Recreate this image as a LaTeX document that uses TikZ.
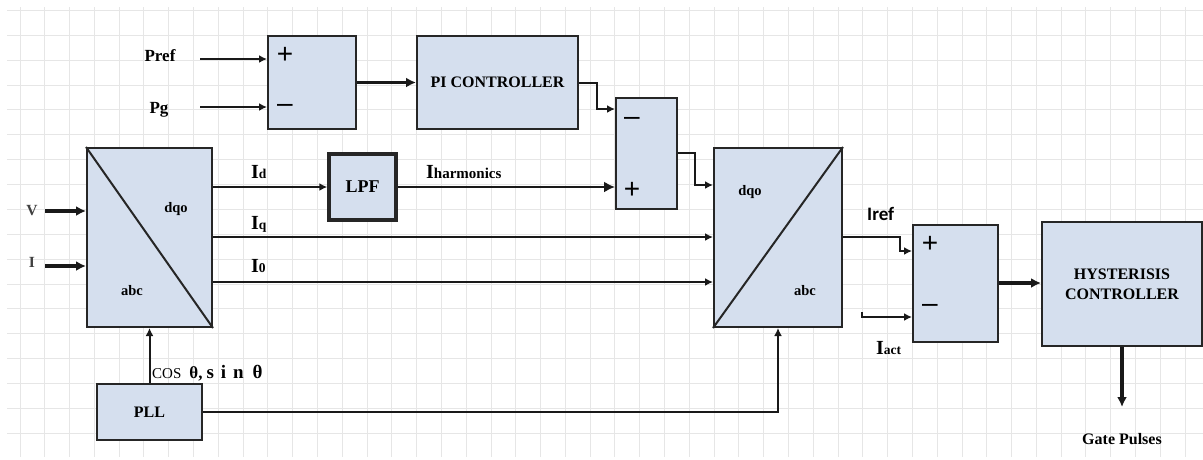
\documentclass[tikz,border=0pt]{standalone}
\usepackage{fontspec}
\setmainfont{Liberation Serif}
\newfontfamily\calfont{Carlito}
\newfontfamily\signfont{Liberation Sans}
\usetikzlibrary{arrows.meta}
\definecolor{blkfill}{RGB}{213,223,238}
\definecolor{gridgray}{RGB}{230,230,230}
\newcommand\curlbl[2]{{\fontsize{20}{20}\selectfont #1}{\fontsize{13.5}{14}\selectfont #2}}

\begin{document}
\begin{tikzpicture}[
  x=1pt, y=-1pt,
  blk/.style={draw=black!85, line width=2pt, fill=blkfill, inner sep=0pt, align=center, font=\fontsize{16}{20}\selectfont\bfseries},
  sig/.style={-{Latex[length=8pt,width=8pt]}, line width=2pt, black!90},
  bigsig/.style={-{Latex[length=10pt,width=10pt]}, line width=3.2pt, black!90},
  wire/.style={line width=2pt, black!90},
  gridline/.style={gridgray, line width=1pt},
  lbl/.style={inner sep=0pt, anchor=base, font=\fontsize{17}{20}\selectfont\bfseries},
  sign/.style={inner sep=0pt, font=\signfont\fontsize{28}{28}\selectfont},
  frame/.style={inner sep=0pt, anchor=base, font=\fontsize{14.5}{16}\selectfont\bfseries}
]
  \useasboundingbox (0,0) rectangle (1203,459);
  \fill[white] (0,0) rectangle (1203,459);

  % grid paper
  \foreach \gx in {0,...,47}
    \draw[gridline] ({20+24.79*\gx},7) -- ({20+24.79*\gx},457);
  \foreach \gy in {0,...,17}
    \draw[gridline] (7,{10.5+24.87*\gy}) -- (1203,{10.5+24.87*\gy});

  % blocks
  \node[blk, minimum width=88pt,  minimum height=93pt]  (sum1)  at (312,82.5) {};
  \node[blk, minimum width=161pt, minimum height=93pt]  (pi)    at (497.5,82.5) {PI CONTROLLER};
  \node[blk, minimum width=61pt,  minimum height=111pt] (sum2)  at (646.5,153.5) {};
  \node[blk, minimum width=125pt, minimum height=179pt] (park)  at (149.5,237.5) {};
  \node[blk, line width=3.5pt, minimum width=67pt, minimum height=66pt, font=\fontsize{18}{20}\selectfont\bfseries] (lpf) at (362.5,187) {LPF};
  \node[blk, minimum width=128pt, minimum height=179pt] (ipark) at (778,237.5) {};
  \node[blk, minimum width=85pt,  minimum height=117pt] (sum3)  at (955.5,283.5) {};
  \node[blk, minimum width=160pt, minimum height=124pt] (hyst)  at (1122,284) {HYSTERISIS\\CONTROLLER};
  \node[blk, minimum width=105pt, minimum height=56pt]  (pll)   at (149.5,412) {PLL};

  % transform diagonals
  \draw[line width=2pt, black!85] (park.north west) -- (park.south east);
  \draw[line width=2pt, black!85] (ipark.south west) -- (ipark.north east);
  \node[frame] (pdqo) at (176,212) {dqo};
  \node[frame] (pabc) at (132,295) {abc};
  \node[frame] (idqo) at (750,195) {dqo};
  \node[frame] (iabc) at (805,295) {abc};

  % signs
  \node[sign] (s1p) at (285,55)  {+};
  \node[sign] (s1m) at (285,108) {–};
  \node[sign] (s2m) at (632,121) {–};
  \node[sign] (s2p) at (632,190) {+};
  \node[sign] (s3p) at (930,244) {+};
  \node[sign] (s3m) at (930,308) {–};

  % inputs and outputs
  \coordinate (pref)  at (200,59);
  \coordinate (pg)    at (200,107);
  \coordinate (vin)   at (45,211);
  \coordinate (iin)   at (45,266);
  \coordinate (iact0) at (862,312);
  \coordinate (iact)  at (862,317);
  \coordinate (gate)  at (1122,407);

  % labels
  \node[lbl] (preflbl) at (160,61)  {Pref};
  \node[lbl] (pglbl)   at (159,113) {Pg};
  \node[lbl, font=\fontsize{15.5}{16}\selectfont\bfseries, text=black!75] (vlbl) at (32,215) {V};
  \node[lbl, font=\fontsize{15.5}{16}\selectfont\bfseries, text=black!75] (ilbl) at (32,267) {I};
  \node[lbl, anchor=base west] (idlbl) at (251,178) {\curlbl{I}{d}};
  \node[lbl, anchor=base west] (iqlbl) at (251,229) {\curlbl{I}{q}};
  \node[lbl, anchor=base west] (i0lbl) at (251,272) {\curlbl{I}{0}};
  \node[lbl, anchor=base west] (ihlbl) at (426,178) {\curlbl{I}{\fontsize{15}{16}\selectfont harmonics}};
  \node[lbl, anchor=base west, font=\calfont\fontsize{19}{20}\selectfont\bfseries] (ireflbl) at (867,220) {Iref};
  \node[lbl, anchor=base west] (iactlbl) at (876,354) {\curlbl{I}{act}};
  \node[lbl, anchor=base west] (triglbl) at (152,378)
    {{\fontsize{15}{16}\selectfont\mdseries COS}\hspace{8pt}{\fontsize{17}{18}\selectfont θ,}\hspace{4pt}{\fontsize{19}{20}\selectfont s\hspace{7pt}i\hspace{7pt}n\hspace{9pt}θ}};
  \node[lbl, font=\fontsize{16}{18}\selectfont\bfseries] (gatelbl) at (1122,444) {Gate Pulses};

  % edges
  \draw[sig] (pref) -- (sum1.west |- pref);
  \draw[sig] (pg) -- (sum1.west |- pg);
  \draw[bigsig] (sum1.east) -- (pi.west);
  \draw[sig] (pi.east) -- (597,82.5) |- (sum2.west |- 0,109);
  \draw[bigsig] (vin) -- (park.west |- vin);
  \draw[bigsig] (iin) -- (park.west |- iin);
  \draw[sig] (park.east |- lpf.west) -- (lpf.west);
  \draw[-{Latex[length=11pt,width=11pt]}, wire] (lpf.east) -- (sum2.west |- lpf.east);
  \draw[sig] (sum2.east |- 0,153) -- (695,153) |- (ipark.west |- 0,185);
  \draw[sig] (park.east |- 0,237) -- (ipark.west |- 0,237);
  \draw[sig] (park.east |- 0,282) -- (ipark.west |- 0,282);
  \draw[sig] (pll.north) -- (park.south);
  \draw[sig] (pll.east) -| (ipark.south);
  \draw[sig] (ipark.east |- 0,237) -- (900,237) |- (sum3.west |- 0,251);
  \draw[sig] (iact0) -- (iact) -- (sum3.west |- iact);
  \draw[bigsig] (sum3.east |- 0,283) -- (hyst.west |- 0,283);
  \draw[bigsig] (hyst.south) -- (gate);
\end{tikzpicture}
\end{document}
